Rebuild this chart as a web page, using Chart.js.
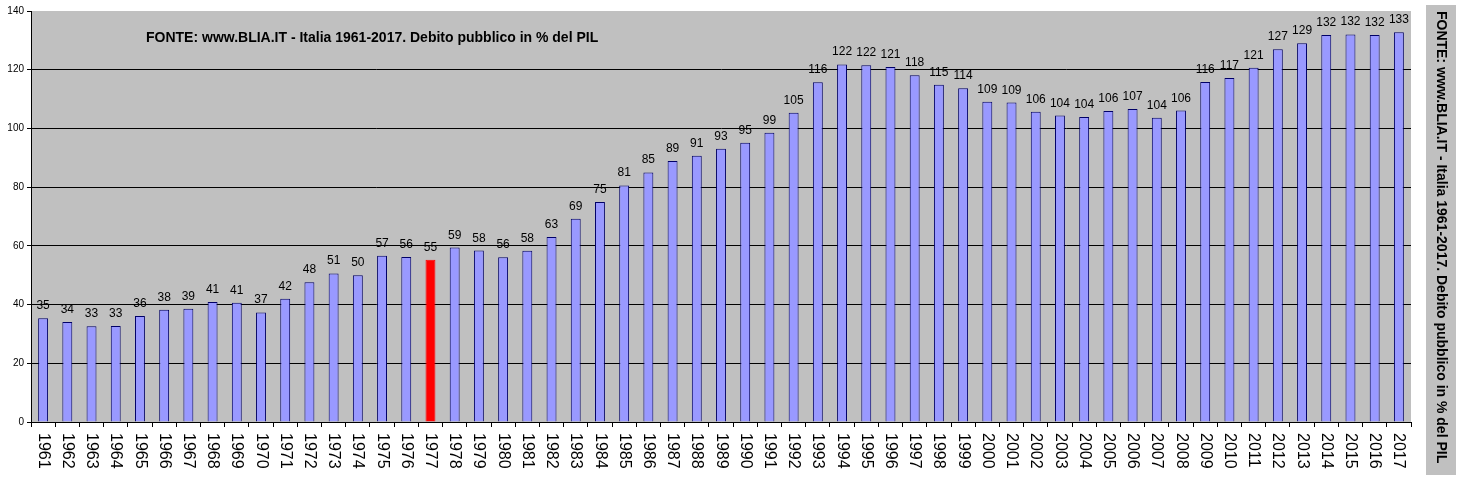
<!DOCTYPE html>
<html>
<head>
<meta charset="utf-8">
<script src="https://cdn.jsdelivr.net/npm/chart.js@4/dist/chart.umd.min.js"></script>
<style>
  html, body { margin: 0; padding: 0; background: #ffffff; }
  #wrap { width: 1471px; height: 481px; }
</style>
</head>
<body>
<div id="wrap"><canvas id="c" width="1471" height="481"></canvas></div>
<script>
const years = ['1961','1962','1963','1964','1965','1966','1967','1968','1969','1970',
  '1971','1972','1973','1974','1975','1976','1977','1978','1979','1980',
  '1981','1982','1983','1984','1985','1986','1987','1988','1989','1990',
  '1991','1992','1993','1994','1995','1996','1997','1998','1999','2000',
  '2001','2002','2003','2004','2005','2006','2007','2008','2009','2010',
  '2011','2012','2013','2014','2015','2016','2017'];
const debtPct = [35.3, 34.1, 32.6, 32.7, 36.1, 38.2, 38.6, 40.9, 40.6, 37.3,
  42.0, 47.6, 50.6, 50.0, 56.6, 56.2, 55.3, 59.4, 58.4, 56.1,
  58.3, 63.0, 69.2, 74.9, 80.6, 85.0, 88.9, 90.7, 93.1, 95.1,
  98.5, 105.3, 115.7, 121.8, 121.5, 120.9, 118.1, 114.9, 113.7, 109.1,
  108.8, 105.7, 104.4, 103.9, 105.9, 106.6, 103.6, 106.1, 115.8, 117.2,
  120.7, 127.0, 129.0, 131.8, 132.0, 131.8, 132.8];
const yTicks = [0, 20, 40, 60, 80, 100, 120, 140];
const highlightYear = '1977';
const titleText = 'FONTE: www.BLIA.IT - Italia 1961-2017. Debito pubblico in % del PIL';

const barFill = years.map(y => y === highlightYear ? '#ff0000' : '#9999ff');
const barBorder = years.map(y => y === highlightYear ? '#ff0000' : '#000066');

const decorPlugin = {
  id: 'decor',
  beforeDraw(chart) {
    const { ctx, chartArea: a } = chart;
    ctx.save();
    ctx.fillStyle = '#c0c0c0';
    ctx.fillRect(a.left, a.top, a.right - a.left, a.bottom - a.top);
    ctx.fillRect(1426, 5, 30, 470);
    ctx.restore();
  },
  afterDraw(chart) {
    const { ctx } = chart;
    const xs = chart.scales.x;
    const meta = chart.getDatasetMeta(0);
    ctx.save();
    ctx.fillStyle = '#000';
    ctx.font = '12px "Liberation Sans", Arial, sans-serif';
    ctx.textAlign = 'center';
    ctx.textBaseline = 'alphabetic';
    meta.data.forEach((el, i) => {
      ctx.fillText(String(Math.round(debtPct[i])), el.x, el.y - 9);
    });
    ctx.font = '16px "Liberation Sans", Arial, sans-serif';
    ctx.textAlign = 'left';
    ctx.textBaseline = 'middle';
    years.forEach((y, i) => {
      const x = xs.getPixelForValue(i);
      ctx.save();
      ctx.translate(x, 433);
      ctx.rotate(Math.PI / 2);
      ctx.fillText(y, 0, 0);
      ctx.restore();
    });
    ctx.font = 'bold 14px "Liberation Sans", Arial, sans-serif';
    ctx.textAlign = 'left';
    ctx.textBaseline = 'middle';
    ctx.fillText(titleText, 146, 38);
    ctx.save();
    ctx.translate(1441, 11);
    ctx.rotate(Math.PI / 2);
    ctx.textAlign = 'left';
    ctx.fillText(titleText, 0, 0);
    ctx.restore();
    ctx.restore();
  }
};

new Chart(document.getElementById('c'), {
  type: 'bar',
  data: {
    labels: years,
    datasets: [{
      data: debtPct,
      backgroundColor: barFill,
      borderColor: barBorder,
      borderWidth: 1,
      barPercentage: 0.41,
      categoryPercentage: 1.0
    }]
  },
  options: {
    responsive: false,
    animation: false,
    events: [],
    layout: { padding: { top: 11, right: 60, bottom: 0, left: 0 } },
    plugins: { legend: { display: false }, tooltip: { enabled: false }, title: { display: false } },
    scales: {
      x: {
        offset: true,
        ticks: { display: false },
        grid: { display: true, offset: true, drawOnChartArea: false, drawTicks: true, tickLength: 5, tickColor: '#000', color: '#000' },
        border: { display: true, color: '#000', width: 1 },
        afterFit(s) { s.height = 59; }
      },
      y: {
        min: 0, max: 140,
        afterBuildTicks(s) { s.ticks = yTicks.map(v => ({ value: v })); },
        ticks: { color: '#000', font: { size: 10, family: '"Liberation Sans", Arial, sans-serif' }, padding: 3 },
        grid: {
          color: c => (c.tick && c.tick.value === 140) ? '#c0c0c0' : '#000',
          tickColor: '#000', tickLength: 4, lineWidth: 1
        },
        border: { display: true, color: '#000', width: 1 },
        afterFit(s) { s.width = 31; }
      }
    }
  },
  plugins: [decorPlugin]
});
</script>
</body>
</html>
